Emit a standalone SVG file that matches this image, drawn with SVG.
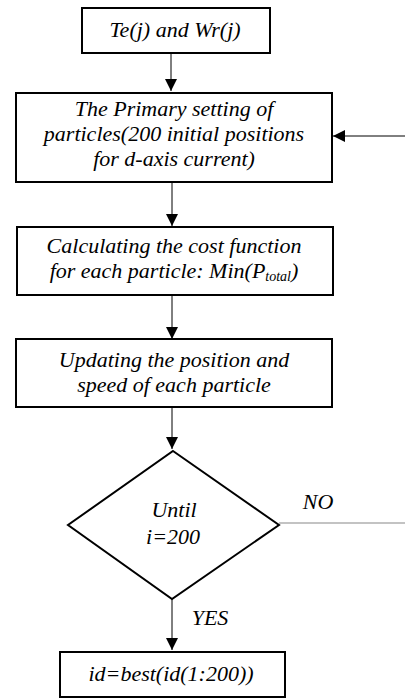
<svg xmlns="http://www.w3.org/2000/svg" width="405" height="698" viewBox="0 0 405 698">
<style>
.box{fill:#fff;stroke:#000;stroke-width:2}
.t{font-size:22px;fill:#000;text-anchor:middle}
.c{stroke:#000;stroke-width:1;fill:none}
</style>
<defs>
<marker id="ah" markerWidth="12" markerHeight="12" refX="12" refY="6" orient="auto" markerUnits="userSpaceOnUse">
<path d="M0,0 L12,6 L0,12 Z" fill="#000"/>
</marker>
</defs>
<rect width="405" height="698" fill="#fff"/>
<g id="connectors">
<line class="c" x1="171" y1="53" x2="171" y2="91" marker-end="url(#ah)"/>
<line class="c" x1="405" y1="136" x2="333" y2="136" marker-end="url(#ah)"/>
<line class="c" x1="172" y1="182" x2="172" y2="226" marker-end="url(#ah)"/>
<line class="c" x1="172" y1="295" x2="172" y2="339" marker-end="url(#ah)"/>
<line class="c" x1="172" y1="407" x2="172" y2="449" marker-end="url(#ah)"/>
<line class="c" x1="172" y1="599" x2="172" y2="650" marker-end="url(#ah)"/>
<line x1="279" y1="523" x2="405" y2="523" stroke="#888" stroke-width="1.2"/>
<text class="t" font-family="Liberation Serif" font-style="italic" x="318" y="509">NO</text>
<text class="t" font-family="Liberation Serif" font-style="italic" x="210" y="625">YES</text>
</g>
<g id="n1">
<rect class="box" x="82" y="8" width="188" height="45"/>
<text class="t" font-family="Liberation Serif" font-style="italic" x="175" y="37">Te(j) and Wr(j)</text>
</g>
<g id="n2">
<rect class="box" x="16" y="93" width="316" height="89"/>
<text class="t" font-family="Liberation Serif" font-style="italic" x="174" y="116">The Primary setting of</text>
<text class="t" font-family="Liberation Serif" font-style="italic" x="174" y="141">particles(200 initial positions</text>
<text class="t" font-family="Liberation Serif" font-style="italic" x="174" y="166">for d-axis current)</text>
</g>
<g id="n3">
<rect class="box" x="17" y="227" width="316" height="68"/>
<text class="t" font-family="Liberation Serif" font-style="italic" x="174" y="253">Calculating the cost function</text>
<text class="t" font-family="Liberation Serif" font-style="italic" x="174" y="278">for each particle: Min(P<tspan font-size="14" dy="3">total</tspan><tspan dy="-3">)</tspan></text>
</g>
<g id="n4">
<rect class="box" x="16" y="339" width="316" height="68"/>
<text class="t" font-family="Liberation Serif" font-style="italic" x="174" y="367">Updating the position and</text>
<text class="t" font-family="Liberation Serif" font-style="italic" x="174" y="392">speed of each particle</text>
</g>
<g id="n5">
<polygon class="box" points="173,451 279,525 172,599 68,525"/>
<text class="t" font-family="Liberation Serif" font-style="italic" x="174" y="517">Until</text>
<text class="t" font-family="Liberation Serif" font-style="italic" x="173" y="544">i=200</text>
</g>
<g id="n6">
<rect class="box" x="60" y="652" width="225" height="45"/>
<text class="t" font-family="Liberation Serif" font-style="italic" x="171" y="681" font-size="21">id=best(id(1:200))</text>
</g>
</svg>
